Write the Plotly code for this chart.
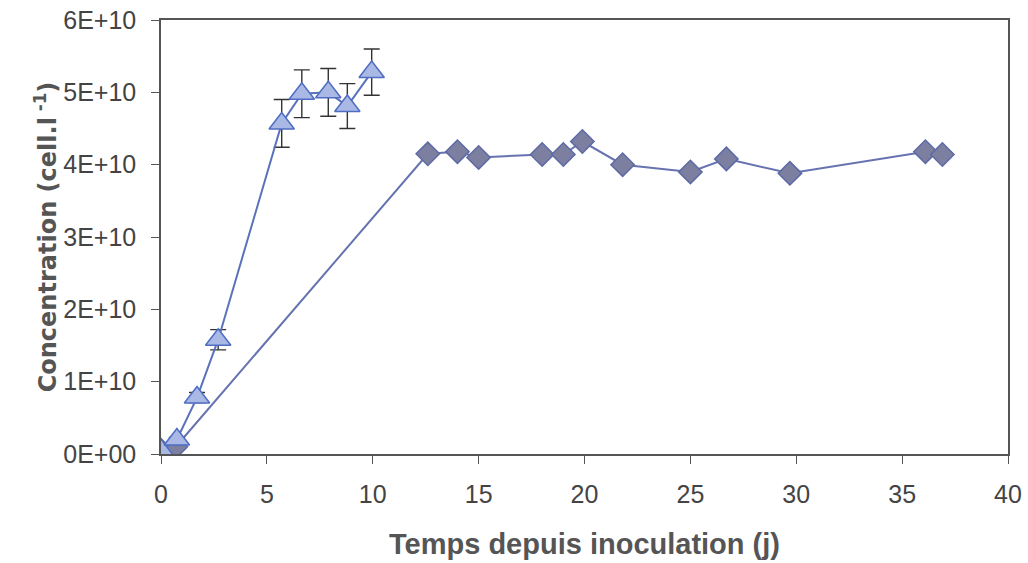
import plotly.graph_objects as go

# Culture A (triangles): time in days, concentration in cells per litre, SD
t_a = [0.0, 0.75, 1.7, 2.7, 5.7, 6.65, 7.9, 8.8, 9.95]
c_a = [0.05e10, 0.20e10, 0.78e10, 1.58e10, 4.57e10, 4.98e10, 5.00e10, 4.81e10, 5.28e10]
e_a = [0.01e10, 0.03e10, 0.07e10, 0.14e10, 0.33e10, 0.33e10, 0.33e10, 0.31e10, 0.32e10]

# Culture B (diamonds)
t_b = [0.0, 0.7, 12.6, 14.0, 15.0, 18.0, 19.0, 19.9, 21.8, 25.0, 26.7, 29.7, 36.1, 36.9]
c_b = [0.05e10, 0.10e10, 4.15e10, 4.18e10, 4.10e10, 4.14e10, 4.14e10, 4.32e10,
       4.00e10, 3.90e10, 4.08e10, 3.88e10, 4.18e10, 4.14e10]
e_b = [0.03e10] * len(t_b)

y_ticks = [0, 1e10, 2e10, 3e10, 4e10, 5e10, 6e10]
y_labels = ["0E+00", "1E+10", "2E+10", "3E+10", "4E+10", "5E+10", "6E+10"]
x_ticks = [0, 5, 10, 15, 20, 25, 30, 35, 40]

fig = go.Figure()

fig.add_trace(go.Scatter(
    x=t_b, y=c_b, mode="lines+markers",
    line=dict(color="#6673b0", width=2),
    marker=dict(symbol="diamond", size=18, color="#7c7f9f",
                line=dict(color="#5d6aa6", width=1.5)),
    error_y=dict(type="data", array=e_b, color="#333333", thickness=1.2, width=5),
    showlegend=False,
))

fig.add_trace(go.Scatter(
    x=t_a, y=c_a, mode="lines+markers",
    line=dict(color="#5a72bb", width=2),
    marker=dict(symbol="triangle-up", size=22, color="#a9b8e4",
                line=dict(color="#4f6dc2", width=1.5)),
    error_y=dict(type="data", array=e_a, color="#333333", thickness=1.4, width=8),
    showlegend=False,
))

tick_font = dict(family="Liberation Sans, Arial, sans-serif", size=25, color="#444444")

fig.update_layout(
    width=1028, height=563,
    margin=dict(l=161, r=20, t=20, b=109),
    paper_bgcolor="white", plot_bgcolor="white",
    xaxis=dict(
        range=[0, 40], tickvals=x_ticks, ticks="outside", ticklen=8,
        tickcolor="#555555", tickwidth=1, ticklabelstandoff=9, automargin=False,
        showline=True, linecolor="#555555", linewidth=1.5, mirror=True,
        showgrid=False, zeroline=False, tickfont=tick_font,
        title=dict(text="<b>Temps depuis inoculation (j)</b>",
                   font=dict(family="Liberation Sans, Arial, sans-serif", size=29, color="#555555"),
                   standoff=27),
    ),
    yaxis=dict(
        range=[0, 6e10], tickvals=y_ticks, ticktext=y_labels,
        ticks="outside", ticklen=8, ticklabelstandoff=10,
        tickcolor="#555555", tickwidth=1, automargin=False,
        showline=True, linecolor="#555555", linewidth=1.5, mirror=True,
        showgrid=False, zeroline=False, tickfont=tick_font,
        title=dict(text="<b>Concentration (cell.l<sup> -1</sup>)</b>",
                   font=dict(family="DejaVu Sans, sans-serif", size=24, color="#555555"),
                   standoff=0),
    ),
)

fig.write_html("out.html")
